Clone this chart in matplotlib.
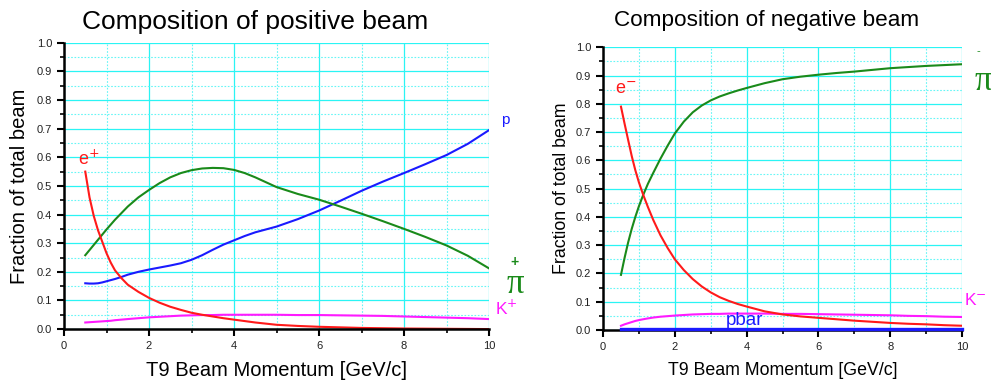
import matplotlib.pyplot as plt
from matplotlib.ticker import MultipleLocator

plt.rcParams['font.family'] = ['Liberation Sans', 'DejaVu Sans']

# positive beam, T9 momentum in GeV/c
pos_mom = [0.5, 0.6, 0.7, 0.8, 0.9, 1.0, 1.1, 1.2, 1.35, 1.5,
           1.75, 2.0, 2.25, 2.5, 2.75, 3.0, 3.25, 3.5, 3.75, 4.0,
           4.25, 4.5, 4.75, 5.0, 5.5, 6.0, 6.5, 7.0, 7.5, 8.0,
           8.5, 9.0, 9.5, 10.0]
pos_e = [0.55, 0.46, 0.395, 0.345, 0.305, 0.265, 0.232, 0.205, 0.178, 0.155,
         0.13, 0.109, 0.092, 0.078, 0.067, 0.057, 0.05, 0.044, 0.038, 0.033,
         0.028, 0.023, 0.019, 0.015, 0.011, 0.008, 0.006, 0.004, 0.003, 0.002,
         0.0015, 0.001, 0.0005, 0.0]
pos_pi = [0.258, 0.276, 0.294, 0.312, 0.33, 0.348, 0.365, 0.382, 0.405, 0.428,
          0.46, 0.486, 0.51, 0.53, 0.545, 0.555, 0.561, 0.563, 0.562, 0.556,
          0.545, 0.53, 0.513, 0.496, 0.472, 0.452, 0.428, 0.403, 0.377, 0.35,
          0.322, 0.292, 0.256, 0.212]
pos_p = [0.16, 0.159, 0.159, 0.16, 0.163, 0.167, 0.171, 0.175, 0.182, 0.19,
         0.2, 0.208, 0.215, 0.222, 0.23, 0.242, 0.258, 0.277, 0.295, 0.31,
         0.325, 0.338, 0.348, 0.358, 0.384, 0.414, 0.448, 0.483, 0.515, 0.545,
         0.576, 0.608, 0.647, 0.695]
pos_k = [0.023, 0.024, 0.025, 0.026, 0.027, 0.028, 0.029, 0.031, 0.033, 0.035,
         0.038, 0.041, 0.043, 0.045, 0.047, 0.048, 0.049, 0.049, 0.05, 0.05,
         0.05, 0.05, 0.05, 0.05, 0.049, 0.049, 0.048, 0.047, 0.046, 0.044,
         0.042, 0.04, 0.038, 0.035]

# negative beam
neg_mom = [0.5, 0.6, 0.7, 0.8, 0.9, 1.0, 1.12, 1.25, 1.4, 1.6,
           1.8, 2.0, 2.25, 2.5, 2.75, 3.0, 3.25, 3.5, 3.75, 4.0,
           4.5, 5.0, 5.5, 6.0, 6.5, 7.0, 7.5, 8.0, 8.5, 9.0,
           9.5, 10.0]
neg_e = [0.79, 0.73, 0.672, 0.615, 0.565, 0.522, 0.478, 0.435, 0.389, 0.335,
         0.29, 0.25, 0.212, 0.18, 0.154, 0.133, 0.116, 0.103, 0.092, 0.083,
         0.066, 0.055, 0.048, 0.043, 0.038, 0.033, 0.029, 0.025, 0.022, 0.02,
         0.017, 0.015]
neg_pi = [0.195, 0.255, 0.31, 0.358, 0.4, 0.438, 0.478, 0.517, 0.556, 0.606,
          0.652, 0.695, 0.737, 0.77, 0.794, 0.812, 0.826, 0.837, 0.847, 0.856,
          0.873, 0.887, 0.896, 0.903, 0.909, 0.914, 0.92, 0.926, 0.93, 0.934,
          0.937, 0.94]
neg_k = [0.015, 0.02, 0.024, 0.028, 0.032, 0.035, 0.038, 0.041, 0.044, 0.047,
         0.049, 0.051, 0.053, 0.055, 0.056, 0.057, 0.057, 0.058, 0.058, 0.058,
         0.058, 0.057, 0.057, 0.056, 0.055, 0.054, 0.053, 0.052, 0.05, 0.049,
         0.047, 0.046]
neg_pbar = [0.002] * len(neg_mom)

RED, GREEN, BLUE, MAGENTA = '#ff1a1a', '#1a8a1a', '#1a1aff', '#ff1aff'
LW = 1.5


def style_axes(ax, label_size, ylabelpad):
    ax.set_xlim(0, 10)
    ax.set_ylim(0, 1.0)
    ax.xaxis.set_major_locator(MultipleLocator(2))
    ax.xaxis.set_minor_locator(MultipleLocator(1))
    ax.yaxis.set_major_locator(MultipleLocator(0.1))
    ax.yaxis.set_minor_locator(MultipleLocator(0.05))
    ax.yaxis.set_major_formatter(plt.FormatStrFormatter('%.1f'))
    ax.grid(which='major', color='#2af4f4', lw=0.9, ls='-')
    ax.grid(which='minor', color='#66f6f6', lw=0.8, ls=(0, (1.5, 1.5)))
    ax.get_ygridlines()[-1].set_visible(False)
    ax.set_axisbelow(True)
    for side in ('top', 'right'):
        ax.spines[side].set_visible(False)
    for side in ('left', 'bottom'):
        ax.spines[side].set_linewidth(1.8)
    ax.tick_params(which='major', direction='out', length=5, width=1.5, labelsize=8,
                   labelcolor='#222222')
    ax.tick_params(which='minor', direction='out', length=3, width=1.2)
    ax.set_xlabel('T9 Beam Momentum [GeV/c]', fontsize=label_size, labelpad=7)
    ax.set_ylabel('Fraction of total beam', fontsize=label_size, labelpad=ylabelpad)


fig = plt.figure(figsize=(9.91, 3.80), dpi=100)
ax1 = fig.add_axes([0.0646, 0.134, 0.4289, 0.7534])
ax2 = fig.add_axes([0.6085, 0.1316, 0.3623, 0.744])

# positive beam
style_axes(ax1, 14.5, 6)
ax1.plot(pos_mom, pos_k, color=MAGENTA, lw=LW)
ax1.plot(pos_mom, pos_p, color=BLUE, lw=LW)
ax1.plot(pos_mom, pos_pi, color=GREEN, lw=LW)
ax1.plot(pos_mom, pos_e, color=RED, lw=LW)
ax1.text(0.58, 0.595, 'e$^{+}$', color=RED, fontsize=13, ha='center', va='center')
ax1.text(10.38, 0.73, 'p', color=BLUE, fontsize=11, ha='center', va='center', clip_on=False)
ax1.text(10.62, 0.155, 'π', color=GREEN, fontsize=25, family='Liberation Serif',
         ha='center', va='center', clip_on=False)
ax1.text(10.6, 0.235, '+', color=GREEN, fontsize=10, fontweight='bold',
         ha='center', va='center', clip_on=False)
ax1.text(10.4, 0.075, 'K$^{+}$', color=MAGENTA, fontsize=12.5, ha='center', va='center',
         clip_on=False)

# negative beam
style_axes(ax2, 12.8, 4)
ax2.plot(neg_mom, neg_pbar, color=BLUE, lw=2.4, clip_on=False, zorder=3)
ax2.plot(neg_mom, neg_k, color=MAGENTA, lw=LW)
ax2.plot(neg_mom, neg_pi, color=GREEN, lw=LW)
ax2.plot(neg_mom, neg_e, color=RED, lw=LW)
ax2.text(0.62, 0.85, 'e$^{-}$', color=RED, fontsize=13, ha='center', va='center')
ax2.text(10.58, 0.88, 'π', color=GREEN, fontsize=25, family='Liberation Serif',
         ha='center', va='center', clip_on=False)
ax2.text(10.45, 0.985, '-', color=GREEN, fontsize=8, ha='center', va='center',
         clip_on=False)
ax2.text(10.38, 0.105, 'K$^{-}$', color=MAGENTA, fontsize=12.5, ha='center', va='center',
         clip_on=False)
ax2.text(3.95, 0.033, 'pbar', color=BLUE, fontsize=13.5, ha='center', va='center')

fig.text(0.257, 0.943, 'Composition of positive beam', fontsize=19, ha='center',
         va='center')
fig.text(0.774, 0.947, 'Composition of negative beam', fontsize=16.2, ha='center',
         va='center')

fig.savefig('out.png', dpi=100)
